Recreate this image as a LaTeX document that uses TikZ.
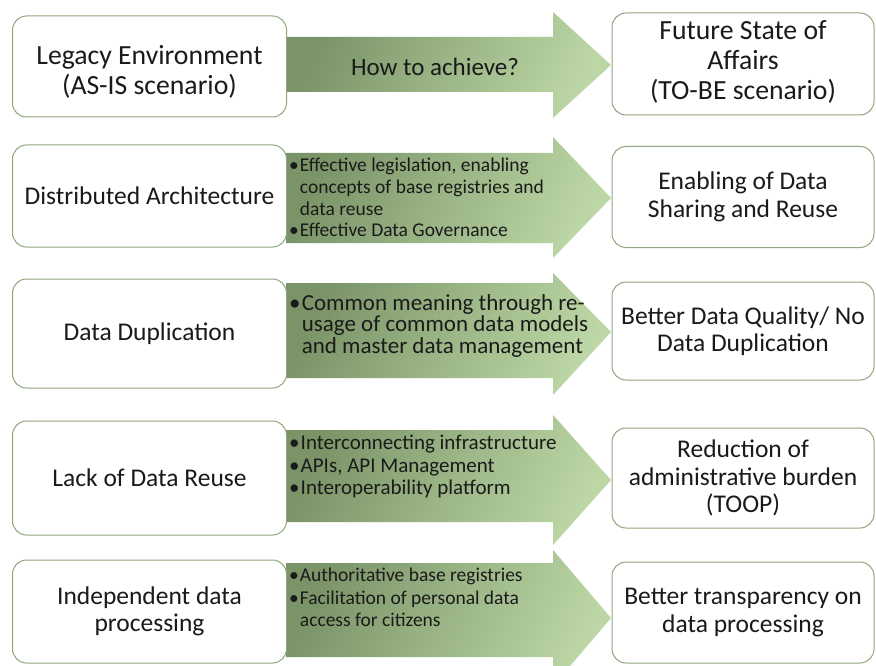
\documentclass[tikz,border=0pt]{standalone}
\usepackage{fontspec}
\setmainfont{Carlito}
\definecolor{dk}{HTML}{7A9468}
\definecolor{lt}{HTML}{BCD7A5}
\definecolor{bd}{HTML}{8FA67E}
\definecolor{tx}{HTML}{1A1A1A}
\newcommand\bul{\makebox[0.55em][l]{\textbullet}}
\newcommand\ind{\hspace*{0.55em}}
\newcommand\garrowpath[6]{%
  \shade[garrow] (#1,#2) -- (553,#2) -- (553,#4) -- (611,#6) -- (553,#5) -- (553,#3) -- (#1,#3) -- cycle;}
\tikzset{
  card/.style={draw=bd, line width=1pt, rounded corners=14pt, fill=white, align=center, text=tx, inner sep=0pt},
  lcol/.style={card, minimum width=274pt},
  rcol/.style={card, minimum width=262pt},
  bigtxt/.style={font=\fontsize{27.7}{30}\selectfont, align=center, text=tx, inner sep=0pt},
  midtxt/.style={font=\fontsize{25.5}{27.5}\selectfont},
  bultxt/.style={align=left, anchor=north west, inner sep=0pt, text=tx},
  garrow/.style={left color=dk, right color=lt, shading angle=65, draw=none},
  arrtxt/.style={font=\fontsize{25}{28}\selectfont, text=tx, inner sep=0pt}
}
\begin{document}
\begin{tikzpicture}[x=1pt,y=-1pt]
\useasboundingbox (0,0) rectangle (876,666);
\clip (0,0) rectangle (876,666);
\fill[white] (0,0) rectangle (876,666);
% arrows
\garrowpath{286}{37}{92}{12}{118}{65}
\garrowpath{286}{153}{243}{137}{258}{198}
\garrowpath{286}{283}{378}{273}{395}{332}
\garrowpath{286}{430}{522}{415}{545}{480}
\garrowpath{286}{563}{657}{550}{686}{618}
% row 1
\node[lcol, minimum height=101pt] (L1) at (149.5,66.5) {};
\node[bigtxt] (L1t) at (149.5,72) {Legacy Environment\\(AS-IS scenario)};
\node[rcol, minimum height=102pt] (R1) at (743,64) {};
\node[bigtxt] (R1t) at (743,62) {Future State of\\Affairs\\(TO-BE scenario)};
\node[arrtxt] (A1) at (435,67) {How to achieve?};
% row 2
\node[lcol, midtxt, minimum height=102pt] (L2) at (149.5,196) {Distributed Architecture};
\node[rcol, midtxt, minimum height=101pt] (R2) at (743,197) {Enabling of Data\\Sharing and Reuse};
\node[bultxt, font=\fontsize{19.5}{21.7}\selectfont] (A2) at (289,158) {\bul Effective legislation, enabling\\\ind concepts of base registries and\\\ind data reuse\\\bul Effective Data Governance};
% row 3
\node[lcol, midtxt, minimum height=109pt] (L3) at (149.5,333.5) {Data Duplication};
\node[rcol, midtxt, minimum height=98pt] (R3) at (743,331) {Better Data Quality/ No\\Data Duplication};
\node[bultxt, font=\fontsize{23}{21.8}\selectfont] (A3) at (289,294) {\bul Common meaning through re-\\\ind usage of common data models\\\ind and master data management};
% row 4
\node[lcol, midtxt, minimum height=114pt] (L4) at (149.5,478) {Lack of Data Reuse};
\node[rcol, midtxt, minimum height=100pt] (R4) at (743,478) {Reduction of\\administrative burden\\(TOOP)};
\node[bultxt, font=\fontsize{21}{22.5}\selectfont] (A4) at (289,435) {\bul Interconnecting infrastructure\\\bul APIs, API Management\\\bul Interoperability platform};
% row 5
\node[lcol, midtxt, minimum height=103pt] (L5) at (149.5,611.5) {Independent data\\processing};
\node[rcol, midtxt, minimum height=101pt] (R5) at (743,612.5) {Better transparency on\\data processing};
\node[bultxt, font=\fontsize{19.5}{22.5}\selectfont] (A5) at (289,568) {\bul Authoritative base registries\\\bul Facilitation of personal data\\\ind access for citizens};
\end{tikzpicture}
\end{document}
